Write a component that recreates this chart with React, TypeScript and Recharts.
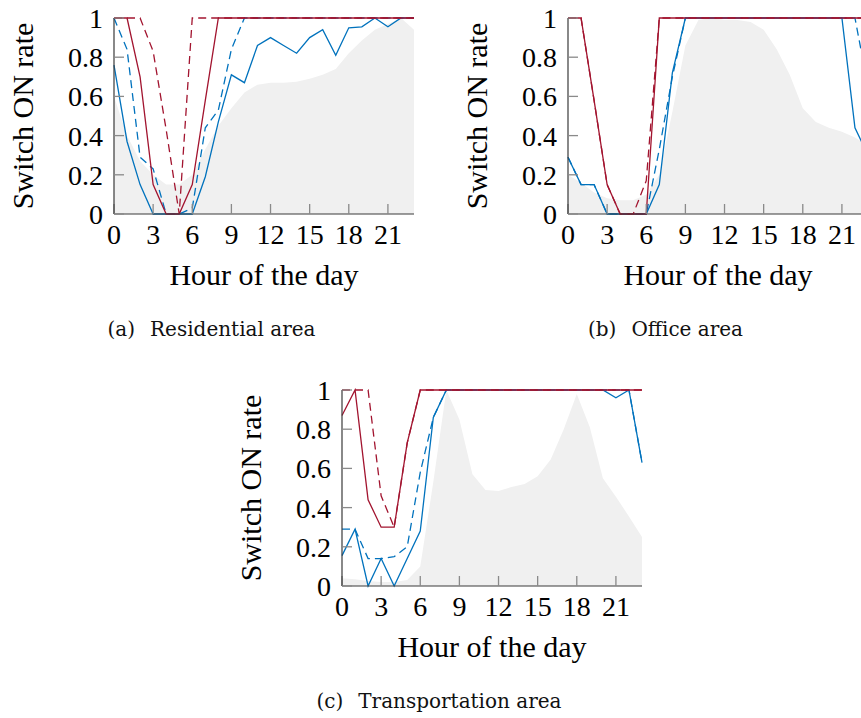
import React from "react";
import {
  ComposedChart,
  Area,
  Line,
  XAxis,
  YAxis,
} from "recharts";

// hour of the day
const hours = [0, 1, 2, 3, 4, 5, 6, 7, 8, 9, 10, 11, 12, 13, 14, 15, 16, 17, 18, 19, 20, 21, 22, 23];
const xTicks = [0, 3, 6, 9, 12, 15, 18, 21];
const yTicks = [0, 0.2, 0.4, 0.6, 0.8, 1];

// (a) residential
const grayA = [0.6, 0.4, 0.27, 0.2, 0.15, 0.15, 0.2, 0.33, 0.45, 0.54, 0.62, 0.66, 0.67, 0.67, 0.675, 0.69, 0.71, 0.74, 0.82, 0.885, 0.94, 0.97, 1, 0.94];
const blueSolidA = [0.76, 0.37, 0.15, 0, 0, 0, 0, 0.19, 0.47, 0.71, 0.67, 0.86, 0.9, 0.86, 0.82, 0.9, 0.94, 0.81, 0.95, 0.955, 1, 0.955, 1, 1];
const blueDashedA = [1, 0.84, 0.29, 0.23, 0, 0, 0.03, 0.44, 0.53, 0.84, 1, 1, 1, 1, 1, 1, 1, 1, 1, 1, 1, 1, 1, 1];
const redSolidA = [1, 1, 0.7, 0.15, 0, 0, 0.15, 0.58, 1, 1, 1, 1, 1, 1, 1, 1, 1, 1, 1, 1, 1, 1, 1, 1];
const redDashedA = [1, 1, 1, 0.83, 0.43, 0, 1, 1, 1, 1, 1, 1, 1, 1, 1, 1, 1, 1, 1, 1, 1, 1, 1, 1];

// (b) office
const grayB = [0.2, 0.16, 0.11, 0.08, 0.07, 0.07, 0.1, 0.2, 0.52, 0.86, 0.99, 1, 0.99, 0.99, 0.98, 0.94, 0.84, 0.71, 0.54, 0.47, 0.44, 0.42, 0.39, 0.35];
const blueSolidB = [0.29, 0.15, 0.15, 0, 0, 0, 0, 0.15, 0.72, 1, 1, 1, 1, 1, 1, 1, 1, 1, 1, 1, 1, 1, 0.44, 0.3];
const blueDashedB = [0.29, 0.15, 0.15, 0, 0, 0, 0, 0.33, 0.7, 1, 1, 1, 1, 1, 1, 1, 1, 1, 1, 1, 1, 1, 1, 0.65];
const redSolidB = [1, 1, 0.58, 0.15, 0, 0, 0, 1, 1, 1, 1, 1, 1, 1, 1, 1, 1, 1, 1, 1, 1, 1, 1, 1];
const redDashedB = [1, 1, 0.58, 0.15, 0, 0, 0.17, 1, 1, 1, 1, 1, 1, 1, 1, 1, 1, 1, 1, 1, 1, 1, 1, 1];

// (c) transportation
const grayC = [0.04, 0.035, 0.025, 0.02, 0.02, 0.03, 0.1, 0.53, 1, 0.85, 0.57, 0.49, 0.485, 0.505, 0.52, 0.56, 0.645, 0.8, 0.98, 0.81, 0.55, 0.455, 0.355, 0.25];
const blueSolidC = [0.155, 0.29, 0, 0.14, 0, 0.14, 0.28, 0.86, 1, 1, 1, 1, 1, 1, 1, 1, 1, 1, 1, 1, 1, 0.96, 1, 0.63];
const blueDashedC = [0.29, 0.29, 0.14, 0.14, 0.15, 0.2, 0.58, 0.86, 1, 1, 1, 1, 1, 1, 1, 1, 1, 1, 1, 1, 1, 1, 1, 0.63];
const redSolidC = [0.87, 1, 0.44, 0.3, 0.3, 0.73, 1, 1, 1, 1, 1, 1, 1, 1, 1, 1, 1, 1, 1, 1, 1, 1, 1, 1];
const redDashedC = [1, 1, 1, 0.46, 0.3, 0.73, 1, 1, 1, 1, 1, 1, 1, 1, 1, 1, 1, 1, 1, 1, 1, 1, 1, 1];

const BLUE = "#0072BD";
const RED = "#A2142F";
const serif = "'Liberation Serif', 'DejaVu Serif', serif";

const tickFont = { fontFamily: serif, fontSize: 28, fill: "#000" };
const tickLine = { stroke: "#8a8a8a", strokeWidth: 1.3 };
const axisLine = { stroke: "#3a3a3a", strokeWidth: 1.2 };

function Panel({ left, top, tag, caption, gray, bs, bd, rs, rd }: any) {
  const rows = hours.map((h, i) => ({
    hour: h,
    gray: gray[i],
    bs: bs[i],
    bd: bd[i],
    rs: rs[i],
    rd: rd[i],
  }));

  return (
    <div style={{ position: "absolute", left, top, width: 430, height: 350 }}>
      <ComposedChart
        width={430}
        height={300}
        data={rows}
        margin={{ top: 17, right: 16, bottom: 0, left: 0 }}
      >
        <XAxis
          xAxisId="b"
          dataKey="hour"
          type="number"
          domain={[0, 23]}
          ticks={xTicks}
          interval={0}
          height={87}
          tickSize={-10}
          tickMargin={20}
          tick={tickFont}
          tickLine={tickLine}
          axisLine={axisLine}
          label={{
            value: "Hour of the day",
            position: "insideTop",
            offset: 50,
            fontFamily: serif,
            fontSize: 30,
            style: { fontFamily: serif, fontSize: 30, fill: "#000" },
          }}
        />
        <XAxis
          xAxisId="t"
          orientation="top"
          dataKey="hour"
          type="number"
          domain={[0, 23]}
          ticks={xTicks}
          interval={0}
          height={0}
          tickSize={-10}
          tick={false}
          tickLine={tickLine}
          axisLine={axisLine}
        />
        <YAxis
          yAxisId="l"
          type="number"
          domain={[0, 1]}
          ticks={yTicks}
          interval={0}
          width={114}
          tickSize={-10}
          tickMargin={21}
          tick={tickFont}
          tickLine={tickLine}
          axisLine={axisLine}
          label={{
            value: "Switch ON rate",
            angle: -90,
            position: "insideLeft",
            offset: 22,
            fontFamily: serif,
            fontSize: 30,
            style: { fontFamily: serif, fontSize: 30, fill: "#000", textAnchor: "middle" },
          }}
        />
        <YAxis
          yAxisId="r"
          orientation="right"
          type="number"
          domain={[0, 1]}
          ticks={yTicks}
          interval={0}
          width={0}
          tickSize={-10}
          tick={false}
          tickLine={tickLine}
          axisLine={axisLine}
        />

        <Area
          xAxisId="b"
          yAxisId="l"
          type="linear"
          dataKey="gray"
          stroke="none"
          fill="#f0f0f0"
          fillOpacity={1}
          isAnimationActive={false}
        />
        <Line xAxisId="b" yAxisId="l" type="linear" dataKey="bd" stroke={BLUE} strokeWidth={1.3} strokeDasharray="8 5" dot={false} isAnimationActive={false} />
        <Line xAxisId="b" yAxisId="l" type="linear" dataKey="bs" stroke={BLUE} strokeWidth={1.3} dot={false} isAnimationActive={false} />
        <Line xAxisId="b" yAxisId="l" type="linear" dataKey="rd" stroke={RED} strokeWidth={1.3} strokeDasharray="8 5" dot={false} isAnimationActive={false} />
        <Line xAxisId="b" yAxisId="l" type="linear" dataKey="rs" stroke={RED} strokeWidth={1.3} dot={false} isAnimationActive={false} />
      </ComposedChart>

      <div
        style={{
          position: "absolute",
          left: 0,
          top: 318,
          width: 423,
          textAlign: "center",
          fontFamily: "'DejaVu Serif', serif",
          fontSize: 20,
          lineHeight: "20px",
          color: "#111",
          whiteSpace: "nowrap",
        }}
      >
        <span style={{ marginRight: 15 }}>{tag}</span>
        <span>{caption}</span>
      </div>
    </div>
  );
}

export default function App() {
  return (
    <div
      style={{
        position: "absolute",
        left: 0,
        top: 0,
        width: 861,
        height: 718,
        overflow: "hidden",
        background: "#fff",
      }}
    >
      <Panel left={0} top={0.5} tag="(a)" caption="Residential area"
        gray={grayA} bs={blueSolidA} bd={blueDashedA} rs={redSolidA} rd={redDashedA} />
      <Panel left={454} top={0.5} tag="(b)" caption="Office area"
        gray={grayB} bs={blueSolidB} bd={blueDashedB} rs={redSolidB} rd={redDashedB} />
      <Panel left={227.5} top={372.5} tag="(c)" caption="Transportation area"
        gray={grayC} bs={blueSolidC} bd={blueDashedC} rs={redSolidC} rd={redDashedC} />
    </div>
  );
}
